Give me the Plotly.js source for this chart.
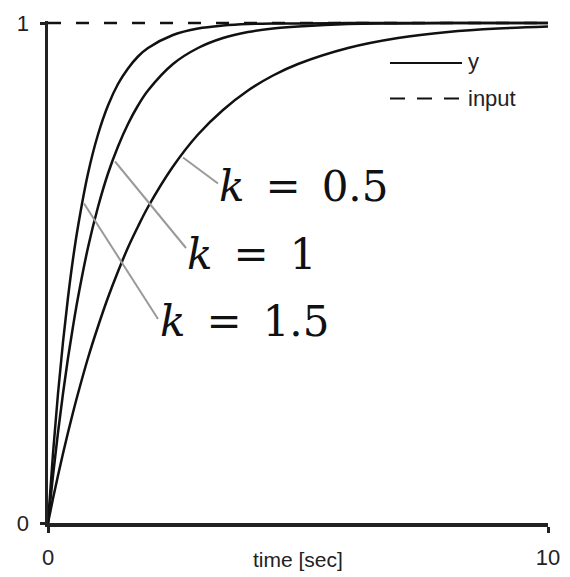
<!DOCTYPE html>
<html>
<head>
<meta charset="utf-8">
<script src="https://cdn.plot.ly/plotly-3.0.1.min.js"></script>
<style>html,body{margin:0;padding:0;background:#fff;}#chart{width:570px;height:577px;}</style>
</head>
<body>
<div id="chart"></div>
<script>
// time samples [sec]
const time = [0, 0.1, 0.2, 0.3, 0.4, 0.5, 0.6, 0.8, 1.0, 1.2, 1.4, 1.6, 1.8, 2.0, 2.5, 3, 3.5, 4, 4.5, 5, 6, 7, 8, 9, 10];
// responses
const yK15 = [0, 0.139, 0.259, 0.362, 0.451, 0.528, 0.593, 0.699, 0.777, 0.835, 0.878, 0.909, 0.933, 0.95, 0.976, 0.989, 0.995, 0.998, 0.999, 0.999, 1, 1, 1, 1, 1];
const yK1  = [0, 0.095, 0.181, 0.259, 0.33, 0.393, 0.451, 0.551, 0.632, 0.699, 0.753, 0.798, 0.835, 0.865, 0.918, 0.95, 0.97, 0.982, 0.989, 0.993, 0.998, 0.999, 1, 1, 1];
const yK05 = [0, 0.049, 0.095, 0.139, 0.181, 0.221, 0.259, 0.33, 0.393, 0.451, 0.503, 0.551, 0.593, 0.632, 0.713, 0.777, 0.826, 0.865, 0.895, 0.918, 0.95, 0.97, 0.982, 0.989, 0.993];
const inputT = [0, 10];
const inputV = [1, 1];
const kValues = ["0.5", "1", "1.5"];
const legendNames = ["y", "input"];

const lineStyle = {color: '#111', width: 2.5, shape: 'spline', smoothing: 1};
const traces = [
  {x: inputT, y: inputV, mode: 'lines', name: 'input', line: {color: '#111', width: 2.5, dash: '13px,15px'}, showlegend: false},
  {x: time, y: yK15, mode: 'lines', name: 'y', line: lineStyle, showlegend: false},
  {x: time, y: yK1, mode: 'lines', name: 'y', line: lineStyle, showlegend: false},
  {x: time, y: yK05, mode: 'lines', name: 'y', line: lineStyle, showlegend: false}
];

const kFont = {family: 'DejaVu Serif, serif', size: 42, color: '#111'};
const sansFont = 'Liberation Sans, Arial, sans-serif';
const labelPos = [[3.38, 0.673], [2.74, 0.538], [2.2, 0.404]];
const leaders = [[2.7, 0.731, 3.4, 0.679], [1.34, 0.723, 2.76, 0.55], [0.72, 0.639, 2.2, 0.408]];

const annotations = kValues.map((k, i) => ({
  x: labelPos[i][0], y: labelPos[i][1], xref: 'x', yref: 'y', xanchor: 'left', yanchor: 'middle',
  text: '<i>k</i>\u2002=\u2002' + k, showarrow: false, font: kFont
}));
annotations.push(
  {x: 8.36, y: 0.923, xref: 'x', yref: 'y', xanchor: 'left', yanchor: 'middle', text: legendNames[0], showarrow: false,
   font: {family: sansFont, size: 22, color: '#222'}},
  {x: 8.36, y: 0.85, xref: 'x', yref: 'y', xanchor: 'left', yanchor: 'middle', text: legendNames[1], showarrow: false,
   font: {family: sansFont, size: 22, color: '#222'}},
  {x: 0.5, y: -0.072, xref: 'paper', yref: 'paper', xanchor: 'center', yanchor: 'middle', text: 'time [sec]', showarrow: false,
   font: {family: sansFont, size: 21, color: '#222'}}
);

const shapes = leaders.map(l => ({type: 'line', xref: 'x', yref: 'y', x0: l[0], y0: l[1], x1: l[2], y1: l[3],
  line: {color: '#9a9a9a', width: 2}}));
shapes.push(
  {type: 'line', xref: 'x', yref: 'y', x0: 6.84, y0: 0.92, x1: 8.28, y1: 0.92, line: {color: '#111', width: 2.2}},
  {type: 'line', xref: 'x', yref: 'y', x0: 6.84, y0: 0.849, x1: 8.28, y1: 0.849, line: {color: '#111', width: 2.2, dash: '15px,12px'}}
);

const layout = {
  width: 570, height: 577,
  margin: {l: 48, r: 22, t: 21, b: 54},
  paper_bgcolor: '#fff', plot_bgcolor: '#fff',
  showlegend: false,
  xaxis: {range: [0, 10], tickvals: [0, 10], ticktext: ['0', '10'], showgrid: false, zeroline: false,
    showline: true, linecolor: '#222', linewidth: 3.5, ticks: 'outside', ticklen: 6, tickwidth: 3, tickcolor: '#222',
    ticklabelstandoff: 6,
    tickfont: {family: sansFont, size: 22, color: '#222'}, fixedrange: true},
  yaxis: {range: [0, 1.004], tickvals: [0, 1], ticktext: ['0', '1'], showgrid: false, zeroline: false,
    showline: true, linecolor: '#222', linewidth: 3.5, ticks: 'outside', ticklen: 5, tickwidth: 3, tickcolor: '#222',
    ticklabelstandoff: 6,
    tickfont: {family: sansFont, size: 22, color: '#222'}, fixedrange: true},
  annotations: annotations,
  shapes: shapes
};

Plotly.newPlot('chart', traces, layout, {displayModeBar: false, staticPlot: true});
</script>
</body>
</html>
